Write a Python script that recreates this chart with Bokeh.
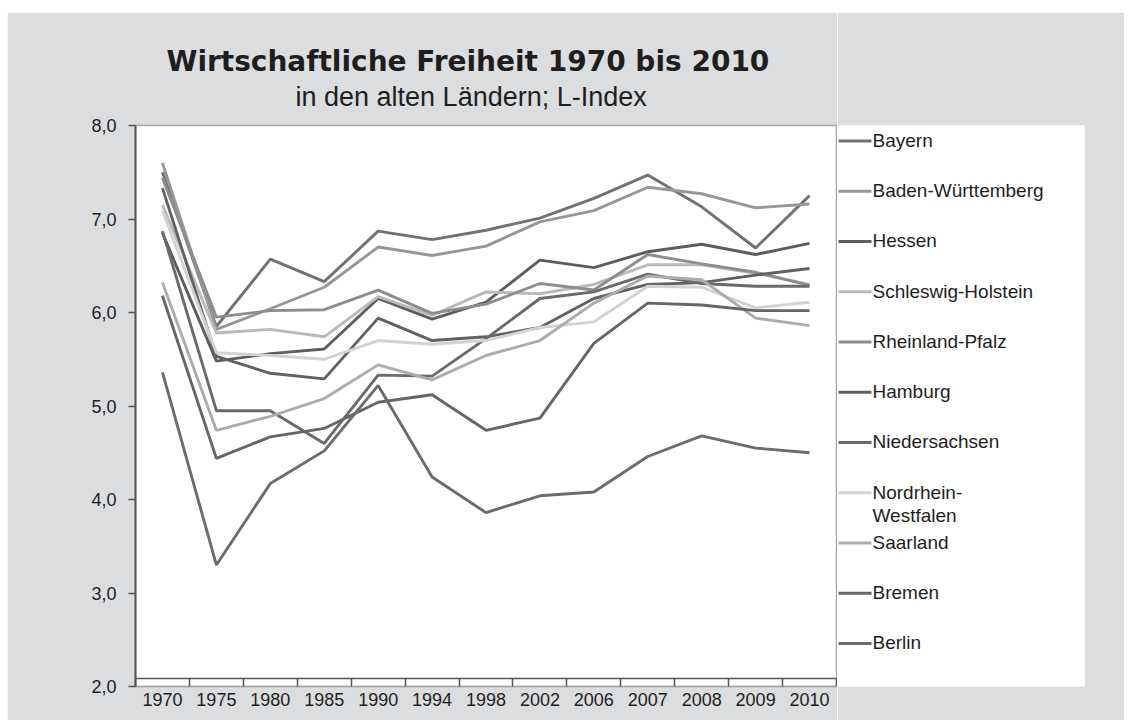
from bokeh.plotting import figure
from bokeh.models import FixedTicker, Range1d, Title, Span
from bokeh.layouts import row
from bokeh.embed import file_html
from bokeh.resources import INLINE
from bokeh.core.properties import value

# ---------------- data ----------------
years = ["1970", "1975", "1980", "1985", "1990", "1994", "1998",
         "2002", "2006", "2007", "2008", "2009", "2010"]

y_ticks = [2, 3, 4, 5, 6, 7, 8]
y_tick_labels = ["2,0", "3,0", "4,0", "5,0", "6,0", "7,0", "8,0"]

bayern             = [7.50, 5.85, 6.57, 6.33, 6.87, 6.78, 6.88, 7.01, 7.22, 7.47, 7.13, 6.69, 7.25]
baden_wuerttemberg = [7.60, 5.82, 6.04, 6.27, 6.70, 6.61, 6.71, 6.97, 7.09, 7.34, 7.27, 7.12, 7.16]
hessen             = [6.85, 5.48, 5.56, 5.61, 6.15, 5.93, 6.11, 6.56, 6.48, 6.65, 6.73, 6.62, 6.74]
schleswig_holstein = [7.15, 5.78, 5.82, 5.74, 6.17, 5.97, 6.22, 6.20, 6.30, 6.51, 6.51, 6.42, 6.30]
rheinland_pfalz    = [7.44, 5.95, 6.02, 6.03, 6.24, 5.99, 6.09, 6.31, 6.24, 6.62, 6.52, 6.43, 6.29]
hamburg            = [7.33, 5.53, 5.35, 5.29, 5.94, 5.70, 5.74, 5.84, 6.15, 6.30, 6.32, 6.40, 6.47]
niedersachsen      = [6.87, 4.95, 4.95, 4.60, 5.33, 5.32, 5.72, 6.15, 6.22, 6.41, 6.31, 6.28, 6.28]
nordrhein_westf    = [7.09, 5.57, 5.54, 5.50, 5.70, 5.66, 5.70, 5.84, 5.90, 6.28, 6.27, 6.05, 6.11]
saarland           = [6.32, 4.74, 4.89, 5.08, 5.44, 5.28, 5.54, 5.70, 6.10, 6.39, 6.35, 5.94, 5.86]
bremen             = [6.18, 4.44, 4.67, 4.76, 5.04, 5.12, 4.74, 4.87, 5.67, 6.10, 6.08, 6.02, 6.02]
berlin             = [5.36, 3.30, 4.17, 4.52, 5.22, 4.24, 3.86, 4.04, 4.08, 4.46, 4.68, 4.55, 4.50]

names = ["Bayern", "Baden-Württemberg", "Hessen", "Schleswig-Holstein",
         "Rheinland-Pfalz", "Hamburg", "Niedersachsen", "Nordrhein-Westfalen",
         "Saarland", "Bremen", "Berlin"]
series = [bayern, baden_wuerttemberg, hessen, schleswig_holstein, rheinland_pfalz,
          hamburg, niedersachsen, nordrhein_westf, saarland, bremen, berlin]
colors = ["#727272", "#979797", "#5d5d5d", "#bababa", "#8d8d8d", "#616161",
          "#6a6a6a", "#d2d2d2", "#acacac", "#666666", "#6c6c6c"]

# ---------------- styling ----------------
BG = "#dcdddf"
FONT = "Liberation Sans"
TXT = "#1e1e1e"
AXIS = "#555555"
BORDER = "#a8a8a8"

x = list(range(len(years)))

p = figure(width=830, height=708, title=None,
           x_range=Range1d(-0.5, len(years) - 0.5), y_range=Range1d(2, 8),
           output_backend="svg", toolbar_location=None,
           min_border_left=128, min_border_right=1,
           min_border_top=113, min_border_bottom=34,
           background_fill_color="white", border_fill_color=BG,
           outline_line_color=BORDER, outline_line_width=1.5)
p.grid.visible = False

for name, vals, col in zip(names, series, colors):
    p.line(x, vals, line_color=col, line_width=2.9)

# x axis: labels at category centres, tick marks between categories
xa = p.xaxis[0]
xa.ticker = FixedTicker(ticks=x, minor_ticks=[i - 0.5 for i in range(len(years) + 1)])
xa.major_label_overrides = {i: yr for i, yr in zip(x, years)}
xa.major_tick_line_color = None
xa.major_tick_in = 0
xa.major_tick_out = 0
xa.minor_tick_in = 8
xa.minor_tick_out = 0
xa.minor_tick_line_color = AXIS
xa.minor_tick_line_width = 1.5
xa.axis_line_color = BORDER
xa.axis_line_width = 1.5
xa.major_label_standoff = 6
xa.major_label_text_font = FONT
xa.major_label_text_font_size = "18px"
xa.major_label_text_color = TXT

# category axis line (sits slightly above the plot-area bottom)
p.add_layout(Span(location=2.086, dimension="width", line_color=AXIS, line_width=1.5))

ya = p.yaxis[0]
ya.ticker = FixedTicker(ticks=y_ticks, minor_ticks=[])
ya.major_label_overrides = dict(zip(y_ticks, y_tick_labels))
ya.major_tick_in = 0
ya.major_tick_out = 7
ya.major_tick_line_color = AXIS
ya.major_tick_line_width = 1.5
ya.minor_tick_line_color = None
ya.axis_line_color = AXIS
ya.axis_line_width = 2
ya.major_label_standoff = 12
ya.major_label_text_font = FONT
ya.major_label_text_font_size = "18px"
ya.major_label_text_color = TXT

p.add_layout(Title(text="in den alten Ländern; L-Index", align="left",
                   text_font=FONT, text_font_size="27px", text_font_style="normal",
                   text_color=TXT, offset=160, standoff=27), "above")
p.add_layout(Title(text="Wirtschaftliche Freiheit 1970 bis 2010", align="left",
                   text_font="DejaVu Sans", text_font_size="28px", text_font_style="bold",
                   text_color=TXT, offset=31, standoff=-22), "above")

# ---------------- legend panel ----------------
legend_labels = [n.replace("Nordrhein-", "Nordrhein-\n") for n in names]
idx = list(range(len(names)))

q = figure(width=287, height=708, title=None,
           x_range=Range1d(0, 247), y_range=Range1d(10.856, -0.308),
           output_backend="svg", toolbar_location=None,
           min_border_left=0, min_border_right=40,
           min_border_top=113, min_border_bottom=34,
           background_fill_color="white", border_fill_color=BG,
           outline_line_color=None, x_axis_location=None, y_axis_location=None)
q.grid.visible = False
q.segment(x0=1, y0=idx, x1=34, y1=idx, line_color=colors, line_width=3)
q.text(x=35, y=idx, text=legend_labels, text_font=value(FONT),
       text_font_size="19px", text_color=TXT, text_baseline="top",
       y_offset=-11, text_line_height=1.12)

layout = row(p, q, spacing=0, margin=(12, 0, 0, 7))
open("out.html", "w").write(file_html(layout, INLINE))
